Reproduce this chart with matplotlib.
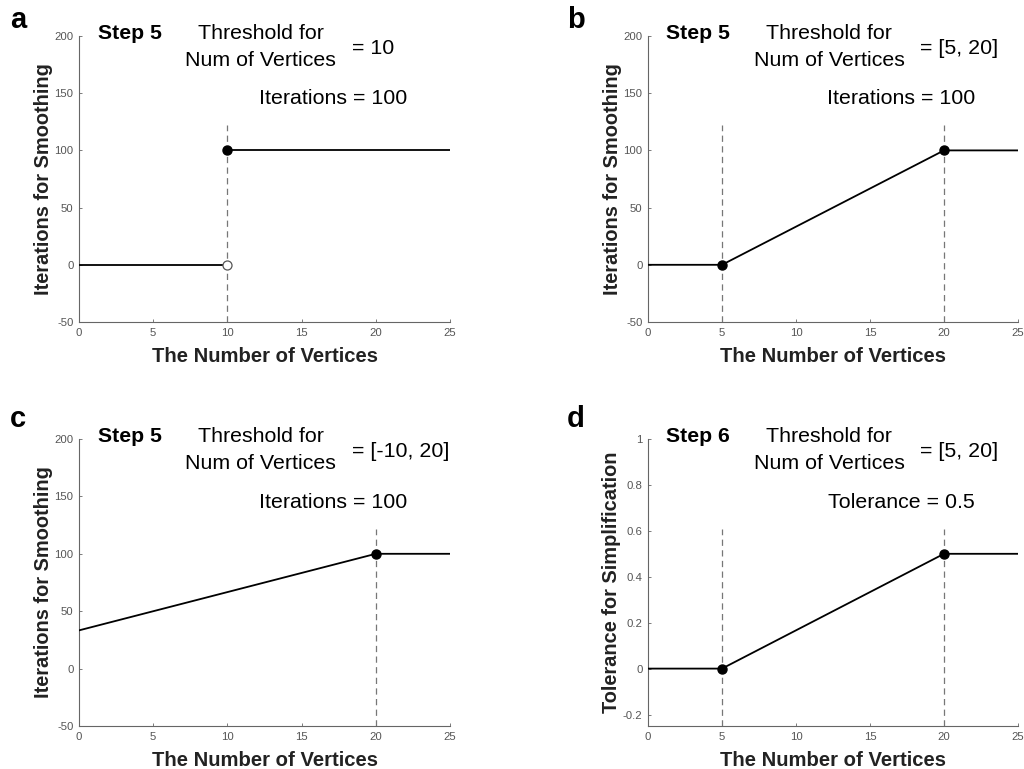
import matplotlib
matplotlib.use("Agg")
import matplotlib.pyplot as plt

plt.rcParams['font.family'] = ['Liberation Sans', 'DejaVu Sans']
plt.rcParams['axes.unicode_minus'] = False

# ---- data ----
x_max = 25
# panel a: step function
a_x_low = [0, 10]
a_y_low = [0, 0]
a_x_high = [10, 25]
a_y_high = [100, 100]
a_open_pt = (10, 0)
a_filled_pts_x = [10]
a_filled_pts_y = [100]
a_vlines = [10]

# panel b
b_x = [0, 5, 20, 25]
b_y = [0, 0, 100, 100]
b_pts_x = [5, 20]
b_pts_y = [0, 100]
b_vlines = [5, 20]

# panel c (threshold [-10, 20])
c_x = [0, 20, 25]
c_y = [33.3, 100, 100]
c_pts_x = [20]
c_pts_y = [100]
c_vlines = [20]

# panel d
d_x = [0, 5, 20, 25]
d_y = [0, 0, 0.5, 0.5]
d_pts_x = [5, 20]
d_pts_y = [0, 0.5]
d_vlines = [5, 20]

iter_ylim = (-50, 200)
iter_yticks = [-50, 0, 50, 100, 150, 200]
tol_ylim = (-0.25, 1)
tol_yticks = [-0.2, 0, 0.2, 0.4, 0.6, 0.8, 1]
tol_yticklabels = ['-0.2', '0', '0.2', '0.4', '0.6', '0.8', '1']
xticks = [0, 5, 10, 15, 20, 25]

panel_info = [
    dict(letter='a', step='Step 5', thr='= 10', val='Iterations = 100',
         ylabel='Iterations for Smoothing', vtop=122),
    dict(letter='b', step='Step 5', thr='= [5, 20]', val='Iterations = 100',
         ylabel='Iterations for Smoothing', vtop=122),
    dict(letter='c', step='Step 5', thr='= [-10, 20]', val='Iterations = 100',
         ylabel='Iterations for Smoothing', vtop=122),
    dict(letter='d', step='Step 6', thr='= [5, 20]', val='Tolerance = 0.5',
         ylabel='Tolerance for Simplification', vtop=0.61),
]

W, H = 1024, 769
fig = plt.figure(figsize=(W / 100, H / 100), dpi=100)

# axes rectangles in pixels: (left, top, right, bottom)
rects = [(79, 36, 450, 322), (648, 36, 1018, 322),
         (79, 439, 450, 726), (648, 439, 1018, 726)]
axes = []
for (l, t, r, b) in rects:
    ax = fig.add_axes([l / W, 1 - b / H, (r - l) / W, (b - t) / H])
    axes.append(ax)

spine_col = '#666666'
tick_col = '#555555'
dash_col = '#777777'
line_kw = dict(color='black', lw=1.3, zorder=3)
pt_kw = dict(marker='o', color='black', markersize=6.5, linestyle='none', zorder=4)
dash_kw = dict(color=dash_col, lw=0.9, linestyle=(0, (5, 3.5)), zorder=2)

# panel a
ax = axes[0]
ax.plot(a_x_low, a_y_low, **line_kw)
ax.plot(a_x_high, a_y_high, **line_kw)
for v in a_vlines:
    ax.plot([v, v], [iter_ylim[0], panel_info[0]['vtop']], **dash_kw)
ax.plot(a_filled_pts_x, a_filled_pts_y, **pt_kw)
ax.plot([a_open_pt[0]], [a_open_pt[1]], marker='o', markersize=6.5,
        markerfacecolor='white', markeredgecolor='#555555', markeredgewidth=0.9,
        linestyle='none', zorder=4)

# panel b
ax = axes[1]
ax.plot(b_x, b_y, **line_kw)
for v in b_vlines:
    ax.plot([v, v], [iter_ylim[0], panel_info[1]['vtop']], **dash_kw)
ax.plot(b_pts_x, b_pts_y, **pt_kw)

# panel c
ax = axes[2]
ax.plot(c_x, c_y, **line_kw)
for v in c_vlines:
    ax.plot([v, v], [iter_ylim[0], panel_info[2]['vtop']], **dash_kw)
ax.plot(c_pts_x, c_pts_y, **pt_kw)

# panel d
ax = axes[3]
ax.plot(d_x, d_y, **line_kw)
for v in d_vlines:
    ax.plot([v, v], [tol_ylim[0], panel_info[3]['vtop']], **dash_kw)
ax.plot(d_pts_x, d_pts_y, **pt_kw)

for i, ax in enumerate(axes):
    info = panel_info[i]
    ax.set_xlim(0, x_max)
    ax.set_xticks(xticks)
    if i < 3:
        ax.set_ylim(*iter_ylim)
        ax.set_yticks(iter_yticks)
    else:
        ax.set_ylim(*tol_ylim)
        ax.set_yticks(tol_yticks)
        ax.set_yticklabels(tol_yticklabels)
    for s in ['top', 'right']:
        ax.spines[s].set_visible(False)
    for s in ['left', 'bottom']:
        ax.spines[s].set_color(spine_col)
        ax.spines[s].set_linewidth(0.8)
    ax.tick_params(direction='in', length=2.5, width=0.6, color=spine_col,
                   labelcolor=tick_col, labelsize=8.2, pad=4)
    ax.set_xlabel('The Number of Vertices', fontsize=14.6, fontweight='bold',
                  color='#222222', labelpad=7)
    ax.set_ylabel(info['ylabel'], fontsize=14.4, fontweight='bold',
                  color='#222222', labelpad=1)
    ax.patch.set_alpha(0)

    tf = ax.transAxes
    ax.text(0.05, 1.007, info['step'], transform=tf, fontsize=15.3,
            fontweight='bold', ha='left', va='center', color='black')
    ax.text(0.49, 1.007, 'Threshold for', transform=tf, fontsize=15.4,
            ha='center', va='center', color='black')
    ax.text(0.49, 0.916, 'Num of Vertices', transform=tf, fontsize=15.4,
            ha='center', va='center', color='black')
    ax.text(0.735, 0.955, info['thr'], transform=tf, fontsize=15.4,
            ha='left', va='center', color='black')
    ax.text(0.685, 0.78, info['val'], transform=tf, fontsize=15.4,
            ha='center', va='center', color='black')

# panel letters
for letter, (px, py) in zip(['a', 'b', 'c', 'd'],
                            [(10, 20), (567, 20), (10, 419), (567, 419)]):
    fig.text(px / W, 1 - py / H, letter, fontsize=21, fontweight='bold',
             ha='left', va='center', color='black')

fig.savefig('out.png', dpi=100, facecolor='white')
